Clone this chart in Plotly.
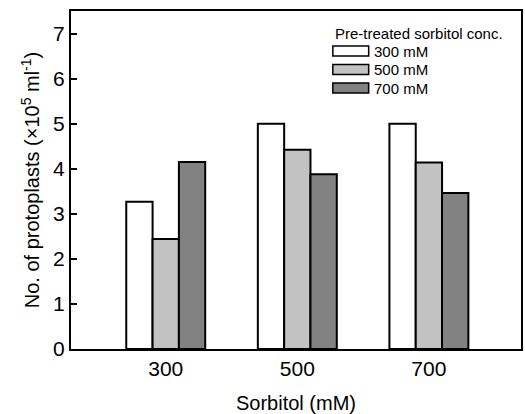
import plotly.graph_objects as go

categories = ["300", "500", "700"]
series_names = ["300 mM", "500 mM", "700 mM"]
v300 = [3.27, 5.00, 5.00]
v500 = [2.44, 4.42, 4.14]
v700 = [4.15, 3.88, 3.46]
fills = ["#ffffff", "#c2c2c2", "#828282"]
y_ticks = [0, 1, 2, 3, 4, 5, 6, 7]

FONT = "Liberation Sans, Arial, sans-serif"
L, R, T, B = 71, 2, 11, 65
W, H = 525, 414
PW, PH = W - L - R, H - T - B

fig = go.Figure()
for name, vals, col in zip(series_names, [v300, v500, v700], fills):
    fig.add_trace(go.Bar(
        x=categories, y=vals, name=name,
        marker=dict(color=col, line=dict(color="black", width=2)),
        showlegend=False,
    ))

def px2paper(px, py):
    return (px - L) / PW, (H - B - py) / PH

# manual legend
tx, ty = px2paper(334, 33)
fig.add_annotation(x=tx, y=ty, xref="paper", yref="paper", text="Pre-treated sorbitol conc.",
                   showarrow=False, xanchor="left", yanchor="middle",
                   font=dict(family=FONT, size=15, color="black"))
for i, (name, col) in enumerate(zip(series_names, fills)):
    cy = 51 + i * 18.5
    x0, y0 = px2paper(334, cy - 5)
    x1, y1 = px2paper(370, cy + 5)
    fig.add_shape(type="rect", xref="paper", yref="paper", x0=x0, x1=x1, y0=y1, y1=y0,
                  fillcolor=col, line=dict(color="black", width=1.5))
    lx, ly = px2paper(373, cy)
    fig.add_annotation(x=lx, y=ly, xref="paper", yref="paper", text=name,
                       showarrow=False, xanchor="left", yanchor="middle",
                       font=dict(family=FONT, size=15, color="black"))

fig.update_layout(
    width=W, height=H,
    margin=dict(l=L, r=R, t=T, b=B),
    paper_bgcolor="white", plot_bgcolor="white",
    barmode="group", bargap=0.4, bargroupgap=0,
    font=dict(family=FONT, size=20, color="black"),
    xaxis=dict(
        type="category", range=[-0.72, 2.70],
        showline=True, linecolor="black", linewidth=2, mirror=True,
        ticks="", showgrid=False,
        tickfont=dict(size=21),
        title=dict(text="Sorbitol (mM)", font=dict(size=20), standoff=17),
    ),
    yaxis=dict(
        range=[0, 7.5], tickvals=y_ticks,
        showline=True, linecolor="black", linewidth=2, mirror=True,
        ticks="inside", ticklen=6, tickwidth=1.5, tickcolor="black",
        showgrid=False, zeroline=False,
        tickfont=dict(size=21),
        title=dict(text="No. of protoplasts (×10<sup>5</sup> ml<sup>-1</sup>)", font=dict(size=20), standoff=8),
    ),
)

fig.write_html("out.html")
